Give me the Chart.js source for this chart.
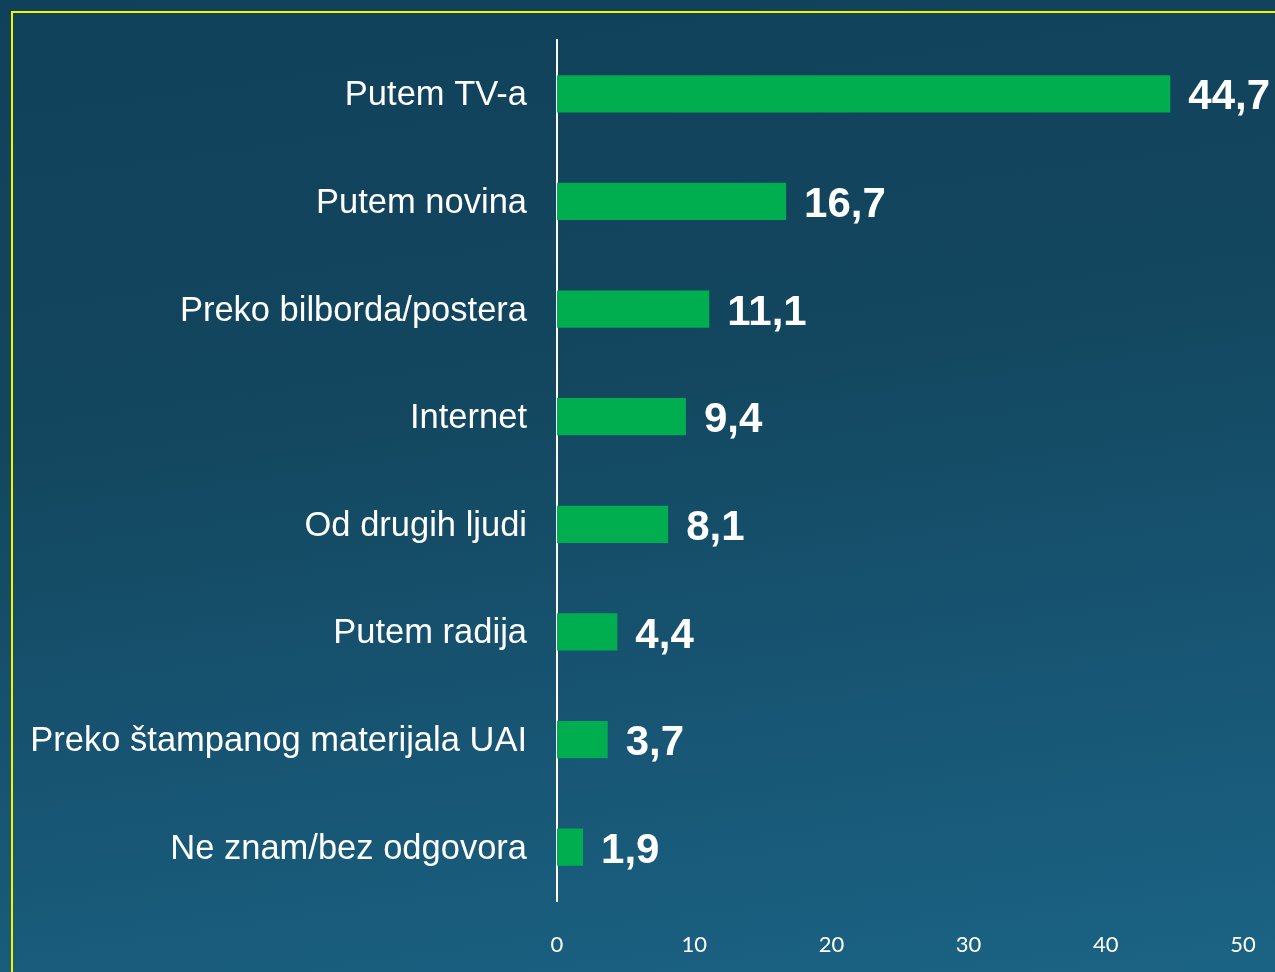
<!DOCTYPE html>
<html>
<head>
<meta charset="utf-8">
<script src="https://cdn.jsdelivr.net/npm/chart.js@4/dist/chart.umd.min.js"></script>
<style>
  html, body { margin: 0; padding: 0; }
  body {
    width: 1275px; height: 972px; overflow: hidden; position: relative;
    background: linear-gradient(172deg, #10415a 0%, #13475f 40%, #175573 70%, #1b6384 100%);
  }
  #frame {
    position: absolute; left: 11px; top: 11px; right: -10px; bottom: -10px;
    border-left: 2px solid #f4f400; border-top: 2px solid #f4f400;
    pointer-events: none;
  }
  canvas { position: absolute; left: 0; top: 0; }
</style>
</head>
<body>
<canvas id="c" width="1275" height="972"></canvas>
<div id="frame"></div>
<script>
const categories = [
  "Putem TV-a",
  "Putem novina",
  "Preko bilborda/postera",
  "Internet",
  "Od drugih ljudi",
  "Putem radija",
  "Preko štampanog materijala UAI",
  "Ne znam/bez odgovora"
];
const values = [44.7, 16.7, 11.1, 9.4, 8.1, 4.4, 3.7, 1.9];
const xTicks = [0, 10, 20, 30, 40, 50];

const valueLabels = {
  id: 'valueLabels',
  afterDatasetsDraw(chart) {
    const ctx = chart.ctx;
    const meta = chart.getDatasetMeta(0);
    ctx.save();
    ctx.fillStyle = '#ffffff';
    ctx.font = 'bold 42px "Liberation Sans", Arial, sans-serif';
    ctx.textBaseline = 'middle';
    ctx.textAlign = 'left';
    meta.data.forEach((bar, i) => {
      const txt = values[i].toFixed(1).replace('.', ',');
      ctx.fillText(txt, bar.x + 18, bar.y + 4);
    });
    ctx.restore();
  }
};

function zeroPad(scale) {
  scale.paddingTop = 0; scale.paddingBottom = 0;
  scale.paddingLeft = 0; scale.paddingRight = 0;
}

new Chart(document.getElementById('c'), {
  type: 'bar',
  data: {
    labels: categories,
    datasets: [{
      data: values,
      backgroundColor: '#00ad4f',
      borderWidth: 0,
      categoryPercentage: 1.0,
      barPercentage: 0.345
    }]
  },
  options: {
    indexAxis: 'y',
    responsive: false,
    animation: false,
    layout: { padding: { top: 40, right: 32, left: 0, bottom: 0 } },
    plugins: { legend: { display: false }, tooltip: { enabled: false } },
    scales: {
      x: {
        min: 0, max: 50,
        afterBuildTicks(scale) { scale.ticks = xTicks.map(v => ({ value: v })); },
        afterFit(scale) { scale.height = 71; zeroPad(scale); },
        grid: { display: false },
        border: { display: false },
        ticks: {
          color: '#ffffff',
          font: { family: 'Lato, "Open Sans", sans-serif', size: 22 },
          padding: 23,
          maxRotation: 0
        }
      },
      y: {
        afterFit(scale) { scale.width = 557; zeroPad(scale); },
        grid: { display: false },
        border: { display: true, color: '#ffffff', width: 2 },
        ticks: {
          color: '#ffffff',
          font: { family: '"Liberation Sans", Arial, sans-serif', size: 34.5 },
          padding: 22,
          labelOffset: 2
        }
      }
    }
  },
  plugins: [valueLabels]
});
</script>
</body>
</html>
